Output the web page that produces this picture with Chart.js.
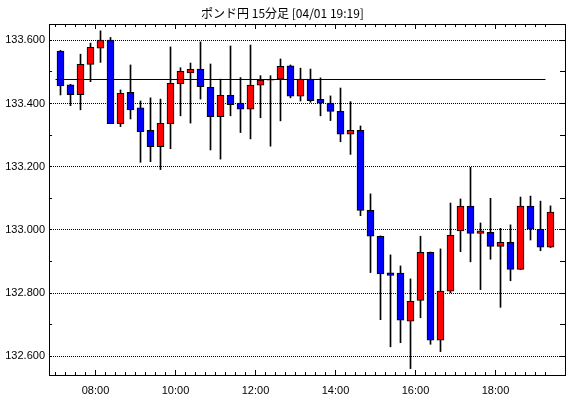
<!DOCTYPE html>
<html>
<head>
<meta charset="utf-8">
<script src="https://cdn.jsdelivr.net/npm/chart.js@4.4.1/dist/chart.umd.min.js"></script>
<style>
    html, body { margin: 0; padding: 0; background: #fff; }
    #wrap { width: 570px; height: 398px; }
</style>
</head>
<body>
<div id="wrap"><canvas id="chart" width="570" height="398"></canvas></div>
<script>
// 15 min candles, GBP/JPY
const times = [
    '07:00', '07:15', '07:30', '07:45', '08:00', '08:15', '08:30', '08:45', '09:00', '09:15',
    '09:30', '09:45', '10:00', '10:15', '10:30', '10:45', '11:00', '11:15', '11:30', '11:45',
    '12:00', '12:15', '12:30', '12:45', '13:00', '13:15', '13:30', '13:45', '14:00', '14:15',
    '14:30', '14:45', '15:00', '15:15', '15:30', '15:45', '16:00', '16:15', '16:30', '16:45',
    '17:00', '17:15', '17:30', '17:45', '18:00', '18:15', '18:30', '18:45', '19:00', '19:15'
];
const opens = [
    133.566, 133.459, 133.428, 133.524, 133.575, 133.601, 133.336, 133.435, 133.386, 133.315,
    133.263, 133.336, 133.463, 133.497, 133.509, 133.451, 133.358, 133.426, 133.401, 133.382,
    133.458, 133.474, 133.477, 133.519, 133.423, 133.477, 133.413, 133.401, 133.375, 133.303,
    133.315, 133.062, 132.980, 132.864, 132.863, 132.711, 132.777, 132.929, 132.651, 132.806,
    132.997, 133.075, 132.989, 132.992, 132.948, 132.961, 132.875, 133.075, 133.002, 132.945
];
const highs = [
    133.568, 133.461, 133.556, 133.591, 133.630, 133.609, 133.443, 133.522, 133.408, 133.418,
    133.414, 133.579, 133.513, 133.528, 133.595, 133.525, 133.477, 133.582, 133.482, 133.585,
    133.488, 133.488, 133.541, 133.522, 133.512, 133.509, 133.481, 133.424, 133.449, 133.406,
    133.329, 133.114, 132.981, 132.921, 132.886, 132.845, 132.980, 132.930, 132.940, 133.085,
    133.098, 133.198, 133.022, 133.100, 133.005, 133.016, 133.104, 133.107, 133.091, 133.076
];
const lows = [
    133.427, 133.393, 133.380, 133.469, 133.530, 133.336, 133.327, 133.351, 133.214, 133.216,
    133.191, 133.257, 133.361, 133.338, 133.414, 133.253, 133.224, 133.361, 133.308, 133.288,
    133.355, 133.265, 133.345, 133.418, 133.408, 133.404, 133.361, 133.346, 133.279, 133.239,
    133.045, 132.865, 132.716, 132.630, 132.643, 132.561, 132.722, 132.638, 132.615, 132.801,
    132.931, 132.899, 132.811, 132.907, 132.755, 132.839, 132.874, 132.968, 132.934, 132.944
];
const closes = [
    133.456, 133.428, 133.524, 133.578, 133.601, 133.336, 133.432, 133.380, 133.311, 133.263,
    133.337, 133.464, 133.502, 133.508, 133.453, 133.358, 133.426, 133.396, 133.382, 133.458,
    133.474, 133.476, 133.518, 133.423, 133.477, 133.409, 133.401, 133.375, 133.303, 133.315,
    133.062, 132.980, 132.861, 132.856, 132.714, 132.774, 132.929, 132.651, 132.806, 132.983,
    133.075, 132.989, 132.997, 132.948, 132.961, 132.875, 133.075, 133.002, 132.945, 133.056
];
const refLevel = 133.476;
const yTickValues = [132.6, 132.8, 133.0, 133.2, 133.4, 133.6];
const yMinorValues = [132.6, 132.7, 132.8, 132.9, 133.0, 133.1, 133.2, 133.3, 133.4, 133.5, 133.6];
const majorTimes = ['08:00', '10:00', '12:00', '14:00', '16:00', '18:00'];

const UP = '#ff0000';
const DOWN = '#0000ff';

// label ticks sit on the boundary before the candle that opens at that time
const xTickIdx = [];
times.forEach((t, i) => { if (majorTimes.includes(t)) xTickIdx.push(i); });

function alignPx(p) {
    return Math.round(p - 0.5) + 0.5;
}

const frameTicks = {
    id: 'frameTicks',
    afterDraw(chart) {
        const { ctx, chartArea: a, scales: { x, y } } = chart;
        ctx.save();
        ctx.strokeStyle = '#000';
        ctx.lineWidth = 1;
        ctx.setLineDash([]);
        ctx.beginPath();
        times.forEach((t, i) => {
            const px = alignPx(x.getPixelForValue(i - 0.5));
            const len = majorTimes.includes(t) ? 5 : 3;
            ctx.moveTo(px, a.bottom);
            ctx.lineTo(px, a.bottom - len);
            ctx.moveTo(px, a.top);
            ctx.lineTo(px, a.top + len);
        });
        yMinorValues.forEach(v => {
            const py = alignPx(y.getPixelForValue(v));
            ctx.moveTo(a.left, py);
            ctx.lineTo(a.left + 3, py);
            ctx.moveTo(a.right, py);
            ctx.lineTo(a.right - 5, py);
        });
        ctx.stroke();
        ctx.strokeRect(a.left + 0.5, a.top + 0.5, a.right - a.left, a.bottom - a.top);
        ctx.restore();
    }
};

const ctx = document.getElementById('chart').getContext('2d');
new Chart(ctx, {
    type: 'bar',
    data: {
        datasets: [{
            type: 'line',
            data: [{ x: -0.5, y: refLevel }, { x: 48.5, y: refLevel }],
            borderColor: '#000',
            borderWidth: 1,
            pointRadius: 0,
            order: 0
        }, {
            label: 'body',
            data: opens.map((o, i) => ({ x: i, y: [o, closes[i]] })),
            backgroundColor: opens.map((o, i) => closes[i] >= o ? UP : DOWN),
            borderColor: '#000',
            borderWidth: 1,
            borderSkipped: false,
            barThickness: 7,
            grouped: false,
            order: 1
        }, {
            label: 'wick',
            data: lows.map((l, i) => ({ x: i, y: [l, highs[i]] })),
            backgroundColor: '#000',
            borderWidth: 0,
            barThickness: 1,
            grouped: false,
            order: 2
        }]
    },
    options: {
        responsive: false,
        animation: false,
        events: [],
        layout: { padding: { left: 0, right: 5, top: 0, bottom: 0 } },
        scales: {
            x: {
                type: 'linear',
                offset: false,
                bounds: 'ticks',
                min: -1.15,
                max: 50.45,
                afterBuildTicks: s => { s.ticks = xTickIdx.map(i => ({ value: i - 0.5 })); },
                afterFit: s => { s.height = 23; },
                grid: { display: false, offset: false },
                border: { display: false },
                ticks: {
                    autoSkip: false,
                    maxRotation: 0,
                    padding: 1,
                    color: '#000',
                    font: { family: 'Liberation Sans', size: 11 },
                    callback: (v, idx) => times[xTickIdx[idx]]
                }
            },
            y: {
                min: 132.5408,
                max: 133.6516,
                afterBuildTicks: s => { s.ticks = yTickValues.map(v => ({ value: v })); },
                afterFit: s => { s.width = 49; },
                grid: { color: '#000', lineWidth: 1, drawTicks: false },
                border: { display: false, dash: [1, 1] },
                ticks: {
                    padding: 4,
                    color: '#000',
                    font: { family: 'Liberation Sans', size: 11 },
                    callback: v => v.toFixed(3)
                }
            }
        },
        plugins: {
            legend: { display: false },
            tooltip: { enabled: false },
            title: {
                display: true,
                text: 'ポンド円 15分足 [04/01 19:19]',
                color: '#000',
                font: { family: 'Noto Sans CJK JP', size: 12, weight: 'normal', lineHeight: 1 },
                padding: { top: 7, bottom: 5 }
            }
        }
    },
    plugins: [frameTicks]
});
</script>
</body>
</html>
